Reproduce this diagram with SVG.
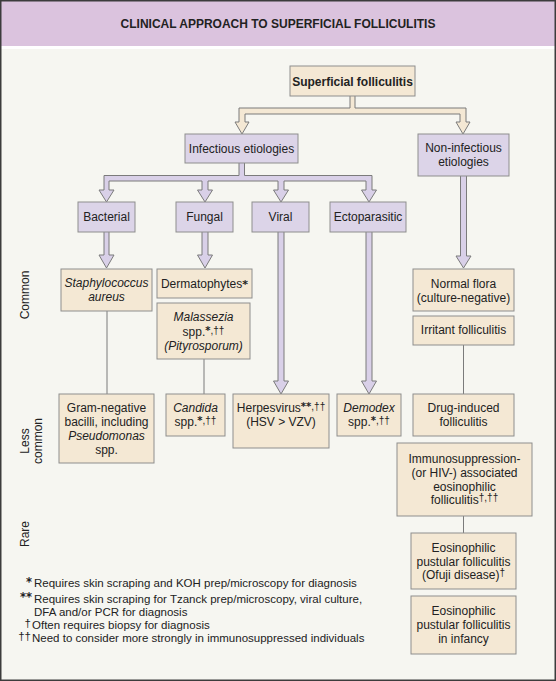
<svg xmlns="http://www.w3.org/2000/svg" width="556" height="681" viewBox="0 0 556 681">
<style>
text{font-family:"Liberation Sans",Arial,sans-serif;font-size:12px;fill:#222;text-anchor:middle}
.title{font-weight:bold;font-size:12px}
.b{font-weight:bold}
.i{font-style:italic}
.st{font-family:"DejaVu Sans",sans-serif;font-weight:bold}
.cream{fill:#f4e8d4;stroke:#8e8e8e;stroke-width:1}
.lav{fill:#dcd4e8;stroke:#8e8e8e;stroke-width:1}
.harrow{stroke:#7b7b7b;stroke-width:1;stroke-linejoin:miter}
.acream{fill:#f4e8d4}
.alav{fill:#d9d0e8}
.line{stroke:#7b7b7b;stroke-width:1;fill:none}
.fn{text-anchor:start;font-size:11.5px}
.fm{text-anchor:end;font-size:11.5px}
.lbl{font-size:12px}
</style>
<rect x="0" y="0" width="556" height="681" fill="#f6f6f1"/>
<rect x="0" y="0" width="556" height="46" fill="#dbc3de"/>
<rect x="0" y="46" width="556" height="3" fill="#ffffff"/>
<rect x="0.75" y="0.75" width="554.5" height="679.5" fill="none" stroke="#3c3c3c" stroke-width="1.5"/>
<text class="title" x="278" y="27.5">CLINICAL APPROACH TO SUPERFICIAL FOLLICULITIS</text>

<g id="connectors">
<path class="harrow acream" d="M350,96 V108 H239 V122 H235 L242,134 L249,122 H245 V114 H460 V122 H456 L463,134 L470,122 H466 V108 H355 V96"/>
<path class="harrow alav" d="M239,163 V175.5 H104 V190 H99 L106.5,202 L114,190 H109 V181 H202 V190 H197.5 L205,202 L212.5,190 H208 V181 H278 V190 H273.5 L281,202 L288.5,190 H284 V181 H366 V190 H361.5 L369,202 L376.5,190 H372 V175.5 H244.5 V163"/>
<path class="harrow alav" d="M104,232 V255 H99 L106.5,268 L114,255 H109 V232"/>
<path class="harrow alav" d="M202,232 V255 H197.5 L205,268 L212.5,255 H208 V232"/>
<path class="harrow alav" d="M278,232 V381 H273.5 L281,394 L288.5,381 H284 V232"/>
<path class="harrow alav" d="M366,232 V381 H361.5 L369,394 L376.5,381 H372 V232"/>
<path class="harrow alav" d="M460.5,176 V256 H456 L463.5,268 L471,256 H466.5 V176"/>
<line class="line" x1="107" y1="311" x2="107" y2="394"/>
<line class="line" x1="204" y1="359" x2="204" y2="394"/>
<line class="line" x1="463.5" y1="345" x2="463.5" y2="394"/>
<line class="line" x1="463.5" y1="516" x2="463.5" y2="533"/>
</g>

<g id="superficial">
<rect class="cream" x="290" y="66" width="125" height="30"/>
<text class="b" x="352.5" y="85.5">Superficial folliculitis</text>
</g>
<g id="infectious">
<rect class="lav" x="185" y="134" width="113" height="29"/>
<text x="241.5" y="153">Infectious etiologies</text>
</g>
<g id="noninfectious">
<rect class="lav" x="418" y="134" width="91" height="42"/>
<text x="463.5" y="151.5">Non-infectious</text>
<text x="463.5" y="165.5">etiologies</text>
</g>
<g id="bacterial">
<rect class="lav" x="78" y="202" width="57" height="30"/>
<text x="106.5" y="221">Bacterial</text>
</g>
<g id="fungal">
<rect class="lav" x="176" y="202" width="57" height="30"/>
<text x="204.5" y="221">Fungal</text>
</g>
<g id="viral">
<rect class="lav" x="252" y="202" width="57" height="30"/>
<text x="280.5" y="221">Viral</text>
</g>
<g id="ectoparasitic">
<rect class="lav" x="330" y="202" width="76" height="30"/>
<text x="368" y="221">Ectoparasitic</text>
</g>
<g id="staph">
<rect class="cream" x="61" y="269" width="91" height="42"/>
<text class="i" x="106.5" y="287">Staphylococcus</text>
<text class="i" x="106.5" y="301">aureus</text>
</g>
<g id="dermatophytes">
<rect class="cream" x="157" y="269" width="95" height="29"/>
<text x="204.5" y="288">Dermatophytes<tspan class="st" font-size="11">*</tspan></text>
</g>
<g id="malassezia">
<rect class="cream" x="157" y="303" width="93" height="56"/>
<text class="i" x="203.5" y="321">Malassezia</text>
<text x="203.5" y="335.5">spp.<tspan font-size="10" dy="-2"><tspan class="st">*</tspan>,††</tspan></text>
<text class="i" x="203.5" y="350">(Pityrosporum)</text>
</g>
<g id="gramneg">
<rect class="cream" x="59" y="394" width="95" height="69"/>
<text x="106.5" y="412">Gram-negative</text>
<text x="106.5" y="426">bacilli, including</text>
<text class="i" x="106.5" y="440">Pseudomonas</text>
<text x="106.5" y="454">spp.</text>
</g>
<g id="candida">
<rect class="cream" x="166" y="394" width="59" height="42"/>
<text class="i" x="195.5" y="412">Candida</text>
<text x="195.5" y="426">spp.<tspan font-size="10" dy="-2"><tspan class="st">*</tspan>,††</tspan></text>
</g>
<g id="herpesvirus">
<rect class="cream" x="233" y="394" width="96" height="54"/>
<text x="281" y="412">Herpesvirus<tspan font-size="10" dy="-2"><tspan class="st">**</tspan>,††</tspan></text>
<text x="281" y="426">(HSV &gt; VZV)</text>
</g>
<g id="demodex">
<rect class="cream" x="337" y="394" width="64" height="42"/>
<text class="i" x="369" y="412">Demodex</text>
<text x="369" y="426">spp.<tspan font-size="10" dy="-2"><tspan class="st">*</tspan>,††</tspan></text>
</g>
<g id="normalflora">
<rect class="cream" x="413" y="269" width="101" height="42"/>
<text x="463.5" y="288">Normal flora</text>
<text x="463.5" y="301.5">(culture-negative)</text>
</g>
<g id="irritant">
<rect class="cream" x="413" y="316" width="101" height="29"/>
<text x="463.5" y="334">Irritant folliculitis</text>
</g>
<g id="druginduced">
<rect class="cream" x="413" y="394" width="101" height="42"/>
<text x="463.5" y="412">Drug-induced</text>
<text x="463.5" y="426">folliculitis</text>
</g>
<g id="immuno">
<rect class="cream" x="397" y="443" width="135" height="73"/>
<text x="464.5" y="463">Immunosuppression-</text>
<text x="464.5" y="477">(or HIV-) associated</text>
<text x="464.5" y="490.5">eosinophilic</text>
<text x="464.5" y="504">folliculitis<tspan font-size="10" dy="-3">†,††</tspan></text>
</g>
<g id="ofuji">
<rect class="cream" x="411" y="533" width="105" height="56"/>
<text x="463.5" y="552">Eosinophilic</text>
<text x="463.5" y="565.5">pustular folliculitis</text>
<text x="463.5" y="579">(Ofuji disease)<tspan font-size="10" dy="-3">†</tspan></text>
</g>
<g id="infancy">
<rect class="cream" x="411" y="596" width="105" height="58"/>
<text x="463.5" y="615">Eosinophilic</text>
<text x="463.5" y="629">pustular folliculitis</text>
<text x="463.5" y="643">in infancy</text>
</g>

<g id="labels">
<text class="lbl" transform="translate(25,295) rotate(-90)" x="0" y="4.3">Common</text>
<text class="lbl" transform="translate(25,441) rotate(-90)" x="0" y="4.3">Less</text>
<text class="lbl" transform="translate(25,441) rotate(-90)" x="0" y="16.5">common</text>
<text class="lbl" transform="translate(25,534) rotate(-90)" x="0" y="4.3">Rare</text>
</g>

<g id="footnotes">
<text class="fm st" x="32" y="586" font-size="11">*</text>
<text class="fn" x="34" y="587">Requires skin scraping and KOH prep/microscopy for diagnosis</text>
<text class="fm st" x="32" y="601" font-size="11">**</text>
<text class="fn" x="34" y="603">Requires skin scraping for Tzanck prep/microscopy, viral culture,</text>
<text class="fn" x="34" y="616">DFA and/or PCR for diagnosis</text>
<text class="fm" x="31" y="627" font-size="10">†</text>
<text class="fn" x="32" y="629">Often requires biopsy for diagnosis</text>
<text class="fm" x="31" y="640" font-size="10">††</text>
<text class="fn" x="32" y="642">Need to consider more strongly in immunosuppressed individuals</text>
</g>
</svg>
